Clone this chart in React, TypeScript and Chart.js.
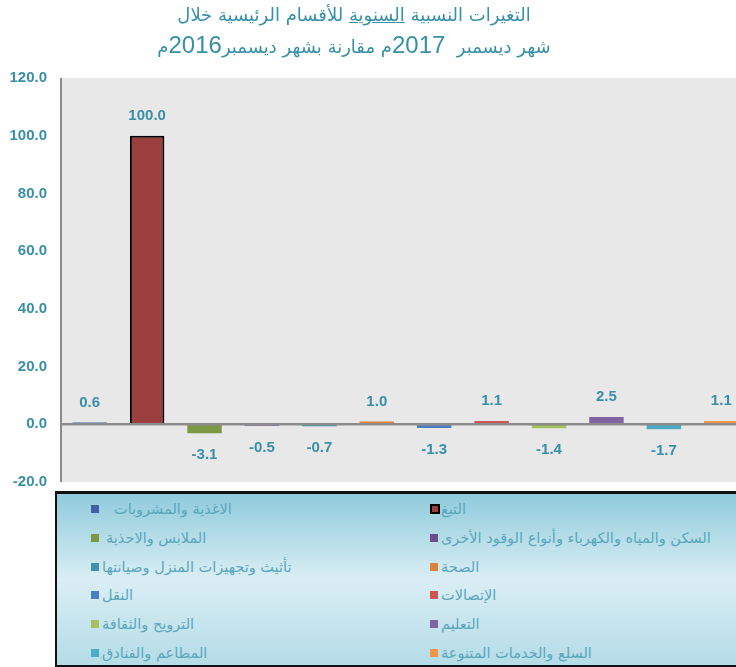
import React, { useEffect, useRef } from "react";
import { Chart, registerables } from "chart.js";

Chart.register(...registerables);

const categories = [
  "الاغذية والمشروبات",
  "التبغ",
  "الملابس والاحذية",
  "السكن والمياه والكهرباء وأنواع الوقود الأخرى",
  "تأثيث وتجهيزات المنزل وصيانتها",
  "الصحة",
  "النقل",
  "الإتصالات",
  "الترويح والثقافة",
  "التعليم",
  "المطاعم والفنادق",
  "السلع والخدمات المتنوعة",
];
const values = [0.6, 100.0, -3.1, -0.5, -0.7, 1.0, -1.3, 1.1, -1.4, 2.5, -1.7, 1.1];
const barColors = [
  "#3f62a3",
  "#9a3e3e",
  "#7b9944",
  "#6b4d8c",
  "#3a93aa",
  "#d9823f",
  "#4a7ec2",
  "#cc5555",
  "#a5c160",
  "#8064a2",
  "#4badc8",
  "#f39447",
];
const yTicks = [-20, 0, 20, 40, 60, 80, 100, 120];

const titleLine1Before = "التغيرات النسبية ";
const titleLine1Under = "السنوية";
const titleLine1After = " للأقسام الرئيسية خلال";
const titleLine2 = ["شهر ديسمبر  ", "2017", "م مقارنة بشهر ديسمبر", "2016", "م"];

const TEAL = "#3a8fa8";

export default function App() {
  const canvasRef = useRef<HTMLCanvasElement | null>(null);

  useEffect(() => {
    if (!canvasRef.current) return;
    const bgPlugin = {
      id: "plotBg",
      beforeDraw(chart: any) {
        const { ctx, chartArea } = chart;
        ctx.save();
        ctx.fillStyle = "#e8e8e8";
        ctx.fillRect(chartArea.left, chartArea.top, chartArea.right - chartArea.left, chartArea.bottom - chartArea.top);
        ctx.restore();
      },
    };
    const overlayPlugin = {
      id: "overlay",
      afterDatasetsDraw(chart: any) {
        const { ctx, chartArea } = chart;
        const yScale = chart.scales.y;
        const y0 = yScale.getPixelForValue(0);
        ctx.save();
        ctx.strokeStyle = "#8c8c8c";
        ctx.lineWidth = 2.5;
        ctx.beginPath();
        ctx.moveTo(chartArea.left, y0);
        ctx.lineTo(chartArea.right, y0);
        ctx.stroke();
        ctx.strokeStyle = "#8c8c8c";
        ctx.lineWidth = 2;
        ctx.beginPath();
        ctx.moveTo(chartArea.left, chartArea.top);
        ctx.lineTo(chartArea.left, chartArea.bottom);
        ctx.stroke();
        const meta = chart.getDatasetMeta(0);
        ctx.fillStyle = TEAL;
        ctx.font = "bold 15px 'Liberation Sans', Arial, sans-serif";
        ctx.textAlign = "center";
        ctx.textBaseline = "middle";
        meta.data.forEach((bar: any, i: number) => {
          const v = values[i];
          const yy = v >= 0 ? bar.y - 20 : bar.y + 22;
          ctx.fillText(v.toFixed(1), bar.x, yy);
        });
        ctx.restore();
      },
    };
    const chart = new Chart(canvasRef.current, {
      type: "bar",
      data: {
        labels: categories,
        datasets: [
          {
            data: values,
            backgroundColor: barColors,
            borderColor: values.map((_, i) => (i === 1 ? "#000000" : barColors[i])),
            borderWidth: values.map((_, i) => (i === 1 ? 2 : 0)),
            barPercentage: 0.6,
            categoryPercentage: 1,
          },
        ],
      },
      options: {
        animation: false,
        responsive: false,
        maintainAspectRatio: false,
        layout: { padding: { top: 78, bottom: 10, right: 10, left: 0 } },
        plugins: { legend: { display: false }, tooltip: { enabled: false }, title: { display: false } },
        scales: {
          x: { display: false },
          y: {
            min: -20,
            max: 120,
            afterFit(scale: any) {
              scale.width = 61;
              scale.paddingTop = 0;
              scale.paddingBottom = 0;
            },
            afterBuildTicks(scale: any) {
              scale.ticks = yTicks.map((v) => ({ value: v }));
            },
            grid: { display: false, drawTicks: false },
            border: { display: false },
            ticks: {
              padding: 14,
              color: TEAL,
              font: { family: "'Liberation Sans', Arial, sans-serif", size: 15, weight: "bold" },
              callback: (v: any) => Number(v).toFixed(1),
            },
          },
        },
      },
      plugins: [bgPlugin, overlayPlugin],
    });
    return () => chart.destroy();
  }, []);

  const legendRows: number[][] = [];
  for (let r = 0; r < 6; r++) legendRows.push([r * 2, r * 2 + 1]);

  const digitStyle = { fontSize: 24, fontFamily: "'Liberation Sans', Arial, sans-serif" };

  return (
    <div style={{ position: "fixed", left: 0, top: 0, width: 736, height: 667, overflow: "hidden", background: "#fff" }}>
      <canvas ref={canvasRef} width={760} height={492} style={{ position: "absolute", left: 0, top: 0, width: 760, height: 492 }} />
      <div
        style={{
          position: "absolute",
          left: 0,
          top: 0,
          width: 708,
          textAlign: "center",
          color: "#3690a8",
          fontFamily: "'DejaVu Sans', sans-serif",
          direction: "rtl",
        }}
      >
        <div style={{ position: "absolute", top: 3, width: 708, fontSize: 18, lineHeight: "24px" }}>
          {titleLine1Before}
          <span style={{ textDecoration: "underline" }}>{titleLine1Under}</span>
          {titleLine1After}
        </div>
        <div style={{ position: "absolute", top: 31, width: 708, fontSize: 18, lineHeight: "28px", whiteSpace: "pre" }}>
          {titleLine2[0]}
          <span style={digitStyle}>{titleLine2[1]}</span>
          {titleLine2[2]}
          <span style={digitStyle}>{titleLine2[3]}</span>
          {titleLine2[4]}
        </div>
      </div>
      <div
        style={{
          position: "absolute",
          left: 55,
          top: 491,
          width: 700,
          height: 176,
          boxSizing: "border-box",
          borderTop: "3px solid #111",
          borderLeft: "2px solid #111",
          borderBottom: "2px solid #111",
          background: "linear-gradient(to bottom, #8fcbdc 0%, #daeef4 50%, #b4dce8 100%)",
        }}
      >
        {legendRows.map((pair, r) =>
          pair.map((idx, c) => (
            <div
              key={idx}
              style={{
                position: "absolute",
                left: c === 0 ? 34 : 373,
                top: 5 + r * 28.8,
                height: 20,
                display: "flex",
                alignItems: "center",
                whiteSpace: "nowrap",
              }}
            >
              <span
                style={{
                  display: "inline-block",
                  width: idx === 1 ? 6 : 8,
                  height: idx === 1 ? 6 : 8,
                  background: barColors[idx],
                  border: idx === 1 ? "2px solid #000" : "none",
                  marginRight: idx === 0 ? 15 : idx === 2 ? 7 : idx === 1 ? 1 : 3,
                }}
              />
              <span
                dir="rtl"
                style={{ fontFamily: "'DejaVu Sans', sans-serif", fontSize: 14.5, color: "#5aa6bb" }}
              >
                {categories[idx]}
              </span>
            </div>
          ))
        )}
      </div>
    </div>
  );
}
